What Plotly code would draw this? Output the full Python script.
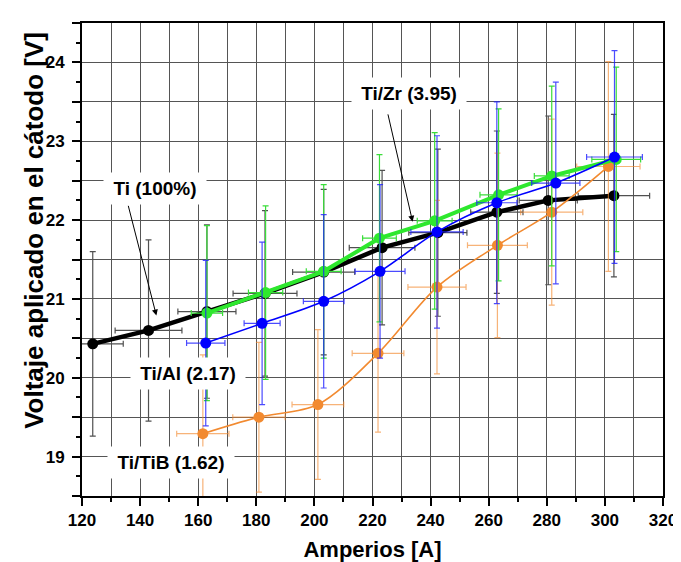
import plotly.graph_objects as go

# ---------------- data ----------------
# Ti (100%)
ti_amp = [123.7, 142.9, 163.0, 183.0, 203.2, 223.3, 242.5, 262.8, 280.5, 303.1]
ti_volt = [20.43, 20.60, 20.84, 21.07, 21.34, 21.65, 21.84, 22.10, 22.25, 22.31]
ti_amp_err = [10.5, 11.5, 10.0, 11.0, 10.7, 11.3, 10.0, 9.0, 10.0, 12.3]
ti_volt_err = [1.17, 1.15, 1.10, 1.05, 1.05, 0.98, 1.06, 1.03, 1.07, 1.03]

# Ti/Zr (3.95)
zr_amp = [163.0, 183.2, 203.2, 222.4, 241.4, 263.4, 281.7, 303.9]
zr_volt = [20.82, 21.08, 21.35, 21.77, 21.99, 22.32, 22.56, 22.77]
zr_amp_err = [5.4, 5.9, 6.0, 5.8, 6.0, 6.4, 6.0, 8.4]
zr_volt_err = [1.11, 1.10, 1.10, 1.06, 1.12, 1.09, 1.14, 1.17]

# Ti/Al (2.17)
al_amp = [162.6, 182.0, 203.2, 222.6, 242.2, 262.8, 283.1, 303.3]
al_volt = [20.44, 20.69, 20.97, 21.35, 21.85, 22.22, 22.47, 22.80]
al_amp_err = [6.6, 6.2, 7.0, 8.6, 9.0, 6.9, 8.3, 9.6]
al_volt_err = [1.05, 1.03, 1.10, 1.10, 1.22, 1.28, 1.28, 1.35]

# Ti/TiB (1.62)
tib_amp = [161.6, 180.9, 201.2, 221.9, 242.2, 263.0, 281.7, 301.2]
tib_volt = [19.29, 19.50, 19.66, 20.31, 21.15, 21.68, 22.10, 22.68]
tib_amp_err = [9.0, 9.0, 8.9, 8.9, 10.0, 10.3, 10.7, 10.9]
tib_volt_err = [1.00, 0.95, 0.95, 1.00, 1.10, 1.17, 1.18, 1.33]

# axis ticks
y_tickvals = [18.5, 19, 19.5, 20, 20.5, 21, 21.5, 22, 22.5, 23, 23.5, 24, 24.5]
y_ticktext = ["", "19", "", "20", "", "21", "", "22", "", "23", "", "24", ""]

x_title = "Amperios [A]"
y_title = "Voltaje aplicado en el cátodo [V]"

FONT = "Liberation Sans, Arial, sans-serif"
GRID = "#555555"

fig = go.Figure()


def add_series(x, y, ex, ey, color, err_color, lw, shape, msize):
    fig.add_trace(go.Scatter(
        x=x, y=y, mode="lines+markers",
        line=dict(color=color, width=lw, shape=shape, smoothing=0.9),
        marker=dict(color=color, size=msize),
        error_x=dict(type="data", array=ex, color=err_color, thickness=1.2, width=3),
        error_y=dict(type="data", array=ey, color=err_color, thickness=1.2, width=3),
        hoverinfo="x+y", showlegend=False,
    ))


add_series(ti_amp, ti_volt, ti_amp_err, ti_volt_err, "#000000", "#505050", 4.5, "linear", 11)
add_series(tib_amp, tib_volt, tib_amp_err, tib_volt_err, "#f28a30", "rgba(242,138,48,0.65)", 1.6, "spline", 11)
add_series(zr_amp, zr_volt, zr_amp_err, zr_volt_err, "#2ee82e", "#3add3a", 4.0, "linear", 11)
add_series(al_amp, al_volt, al_amp_err, al_volt_err, "#0000ff", "rgba(30,30,255,0.8)", 1.6, "spline", 11)

ann_font = dict(family=FONT, size=19, color="black", weight="bold")

annotations = [
    # labels
    dict(x=232.7, y=23.60, xref="x", yref="y", text="Ti/Zr (3.95)", showarrow=False,
         font=ann_font, bgcolor="white", width=114, height=31, borderpad=0),
    dict(x=145.2, y=22.40, xref="x", yref="y", text="Ti (100%)", showarrow=False,
         font=ann_font, bgcolor="white", width=102, height=31, borderpad=0),
    dict(x=156.5, y=20.06, xref="x", yref="y", text="Ti/Al (2.17)", showarrow=False,
         font=ann_font, bgcolor="white", width=114, height=31, borderpad=0),
    dict(x=150.8, y=18.92, xref="x", yref="y", text="Ti/TiB (1.62)", showarrow=False,
         font=ann_font, bgcolor="white", width=126, height=31, borderpad=0),
    # arrows
    dict(x=233.8, y=21.98, ax=225.2, ay=23.36, xref="x", yref="y", axref="x", ayref="y",
         text="", showarrow=True, arrowhead=2, arrowsize=1.2, arrowwidth=1, arrowcolor="black"),
    dict(x=145.6, y=20.79, ax=135.8, ay=22.20, xref="x", yref="y", axref="x", ayref="y",
         text="", showarrow=True, arrowhead=2, arrowsize=1.2, arrowwidth=1, arrowcolor="black"),
    # y axis title
    dict(x=-0.084, y=0.561, xref="paper", yref="paper", text=y_title, textangle=-90,
         showarrow=False, xanchor="center", yanchor="middle",
         font=dict(family=FONT, size=26, color="black", weight="bold")),
]

fig.update_layout(
    width=681, height=562,
    margin=dict(l=74, r=16, t=15, b=66),
    plot_bgcolor="white", paper_bgcolor="white",
    font=dict(family=FONT, color="black"),
    showlegend=False,
    annotations=annotations,
    xaxis=dict(
        range=[120, 320], dtick=20, tick0=120,
        showline=True, linecolor="black", linewidth=2, mirror=True,
        ticks="outside", ticklen=8, tickwidth=2, tickcolor="black",
        showgrid=True, gridcolor=GRID, gridwidth=1, zeroline=False,
        minor=dict(dtick=10, ticks="outside", ticklen=4, tickwidth=2, tickcolor="black",
                   showgrid=True, gridcolor=GRID, gridwidth=1),
        tickfont=dict(family=FONT, size=17, color="black", weight="bold"),
        title=dict(text=x_title, standoff=12,
                   font=dict(family=FONT, size=22, color="black", weight="bold")),
    ),
    yaxis=dict(
        range=[18.5, 24.5], tickmode="array", tickvals=y_tickvals, ticktext=y_ticktext,
        showline=True, linecolor="black", linewidth=2, mirror=True,
        ticks="outside", ticklen=8, tickwidth=2, tickcolor="black",
        showgrid=True, gridcolor=GRID, gridwidth=1, zeroline=False,
        minor=dict(dtick=0.25, tick0=0, ticks="outside", ticklen=4, tickwidth=2,
                   tickcolor="black", showgrid=False),
        tickfont=dict(family=FONT, size=17, color="black", weight="bold"),
        ticklabelstandoff=4,
    ),
)

fig.write_html("out.html")
